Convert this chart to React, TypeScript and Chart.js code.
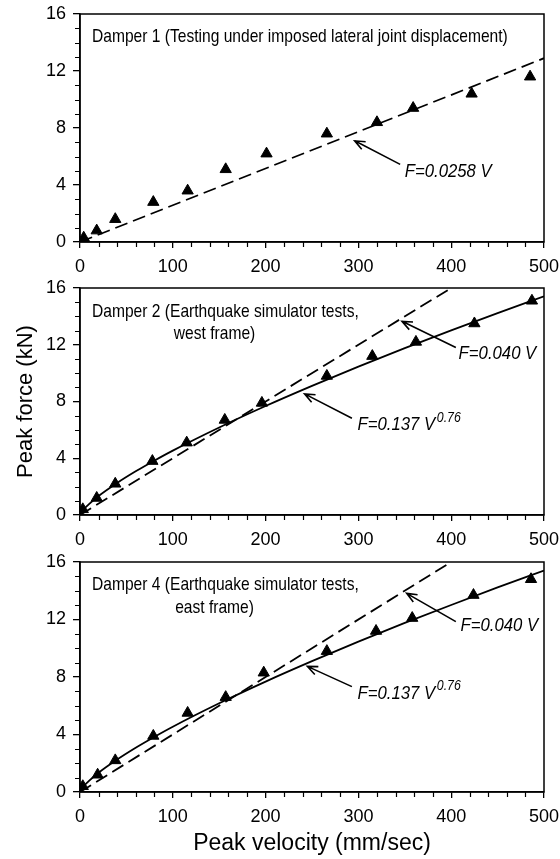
import React, { useEffect, useRef } from 'react';
import { Chart, registerables } from 'chart.js';
Chart.register(...registerables);

// ---------- data ----------
const VELOCITY_TICKS = [0, 100, 200, 300, 400, 500];
const FORCE_TICKS = [0, 4, 8, 12, 16];
const VELOCITY_MINOR = [20, 40, 60, 80, 120, 140, 160, 180, 220, 240, 260, 280, 320, 340, 360, 380, 420, 440, 460, 480];
const FORCE_MINOR = [1, 2, 3, 5, 6, 7, 9, 10, 11, 13, 14, 15];

// measured peak velocity (mm/sec) and peak force (kN)
const D1_V = [4, 18, 38, 79, 116, 157, 201, 266, 320, 359, 422, 485];
const D1_F = [0.3, 0.8, 1.6, 2.8, 3.6, 5.1, 6.2, 7.6, 8.4, 9.4, 10.4, 11.6];
const D2_V = [3, 18, 38, 78, 115, 156, 196, 266, 315, 362, 425, 487];
const D2_F = [0.4, 1.2, 2.2, 3.8, 5.1, 6.7, 7.9, 9.8, 11.2, 12.2, 13.5, 15.1];
const D4_V = [3, 19, 38, 79, 116, 157, 198, 266, 319, 358, 424, 486];
const D4_F = [0.4, 1.2, 2.2, 3.9, 5.5, 6.6, 8.3, 9.8, 11.2, 12.1, 13.7, 14.8];

// fitted lines
const LIN1_V = [0, 500];
const LIN1_F = [0, 12.9];
const LIN2_V = [0, 400];
const LIN2_F = [0, 16];
const POW_V = [0, 2, 5, 10, 20, 40, 60, 80, 100, 150, 200, 250, 300, 350, 400, 450, 500];
const POW_F = [0, 0.23, 0.47, 0.79, 1.34, 2.26, 3.08, 3.83, 4.54, 6.17, 7.68, 9.1, 10.46, 11.76, 13.01, 14.23, 15.41];

// annotations
const P1_TEXTS = [
  { text: 'Damper 1 (Testing under imposed lateral joint displacement)', v: 13, f: 14.4, align: 'left', italic: false },
  { text: 'F=0.0258 V', v: 350, f: 4.9, align: 'left', italic: true },
];
const P1_ARROWS = [{ v0: 345, f0: 5.45, v1: 296, f1: 7.1 }];

const P2_TEXTS = [
  { text: 'Damper 2 (Earthquake simulator tests,', v: 13, f: 14.3, align: 'left', italic: false },
  { text: 'west frame)', v: 145, f: 12.8, align: 'center', italic: false },
  { text: 'F=0.040 V', v: 408, f: 11.4, align: 'left', italic: true },
  { text: 'F=0.137 V', sup: '0.76', v: 299, f: 6.35, align: 'left', italic: true },
];
const P2_ARROWS = [
  { v0: 405, f0: 11.8, v1: 347, f1: 13.65 },
  { v0: 293, f0: 6.82, v1: 242, f1: 8.54 },
];

const P4_TEXTS = [
  { text: 'Damper 4 (Earthquake simulator tests,', v: 13, f: 14.4, align: 'left', italic: false },
  { text: 'east frame)', v: 145, f: 12.8, align: 'center', italic: false },
  { text: 'F=0.040 V', v: 410, f: 11.55, align: 'left', italic: true },
  { text: 'F=0.137 V', sup: '0.76', v: 299, f: 6.86, align: 'left', italic: true },
];
const P4_ARROWS = [
  { v0: 405, f0: 11.85, v1: 352, f1: 13.82 },
  { v0: 293, f0: 7.33, v1: 245, f1: 8.74 },
];

const SANS = '"Liberation Sans", Arial, sans-serif';

const zip = (vs: number[], fs: number[]) => vs.map((v, i) => ({ x: v, y: fs[i] }));

const decor = {
  id: 'decor',
  afterDraw(chart: any, _args: any, opts: any) {
    const { ctx, chartArea: a, scales } = chart;
    const x = scales.x, y = scales.y;
    ctx.save();
    ctx.strokeStyle = '#000';
    ctx.lineWidth = 1.5;
    ctx.strokeRect(a.left, a.top, a.right - a.left, a.bottom - a.top);
    ctx.lineWidth = 1.2;
    ctx.beginPath();
    FORCE_MINOR.forEach((f) => {
      const py = Math.round(y.getPixelForValue(f)) + 0.5;
      ctx.moveTo(a.left - 5, py);
      ctx.lineTo(a.left, py);
    });
    VELOCITY_MINOR.forEach((v) => {
      const px = Math.round(x.getPixelForValue(v)) + 0.5;
      ctx.moveTo(px, a.bottom);
      ctx.lineTo(px, a.bottom + 5);
    });
    ctx.stroke();

    ctx.fillStyle = '#000';
    ctx.textBaseline = 'middle';
    (opts.texts || []).forEach((t: any) => {
      const px = x.getPixelForValue(t.v);
      const py = y.getPixelForValue(t.f);
      ctx.save();
      ctx.translate(px, py);
      ctx.scale(t.italic ? 0.88 : 0.82, 1);
      ctx.font = t.italic ? `italic 19px ${SANS}` : `19px ${SANS}`;
      ctx.textAlign = t.align;
      ctx.fillText(t.text, 0, 0);
      if (t.sup) {
        const w = ctx.measureText(t.text).width;
        ctx.font = `italic 14px ${SANS}`;
        ctx.textAlign = 'left';
        ctx.fillText(t.sup, w + 2, -7);
      }
      ctx.restore();
    });
    ctx.lineWidth = 1.6;
    (opts.arrows || []).forEach((ar: any) => {
      const x0 = x.getPixelForValue(ar.v0), y0 = y.getPixelForValue(ar.f0);
      const x1 = x.getPixelForValue(ar.v1), y1 = y.getPixelForValue(ar.f1);
      const ang = Math.atan2(y0 - y1, x0 - x1);
      const L = 11, da = 0.4;
      ctx.beginPath();
      ctx.moveTo(x0, y0);
      ctx.lineTo(x1, y1);
      ctx.moveTo(x1 + L * Math.cos(ang + da), y1 + L * Math.sin(ang + da));
      ctx.lineTo(x1, y1);
      ctx.lineTo(x1 + L * Math.cos(ang - da), y1 + L * Math.sin(ang - da));
      ctx.stroke();
    });
    ctx.restore();
  },
};

type PanelCfg = {
  top: number;
  xHeight: number;
  pts: { x: number; y: number }[];
  lin: { x: number; y: number }[];
  pow?: { x: number; y: number }[];
  texts: any[];
  arrows: any[];
  yTitle?: boolean;
  xTitle?: boolean;
};

function Panel({ cfg }: { cfg: PanelCfg }) {
  const ref = useRef<HTMLCanvasElement>(null);
  useEffect(() => {
    const datasets: any[] = [
      {
        data: cfg.pts,
        showLine: false,
        pointStyle: 'triangle',
        pointRadius: 6.5,
        backgroundColor: '#000',
        borderColor: '#000',
        borderWidth: 1,
      },
      {
        data: cfg.lin,
        showLine: true,
        pointRadius: 0,
        borderColor: '#000',
        borderWidth: 1.8,
        borderDash: [13, 6],
        fill: false,
      },
    ];
    if (cfg.pow) {
      datasets.push({
        data: cfg.pow,
        showLine: true,
        pointRadius: 0,
        borderColor: '#000',
        borderWidth: 1.8,
        cubicInterpolationMode: 'monotone',
        fill: false,
      });
    }
    const chart = new Chart(ref.current!, {
      type: 'scatter',
      data: { datasets },
      options: {
        animation: false,
        responsive: false,
        devicePixelRatio: 1,
        layout: { padding: { left: 0, right: 16, top: cfg.top, bottom: 0 } },
        plugins: {
          legend: { display: false },
          tooltip: { enabled: false },
          decor: { texts: cfg.texts, arrows: cfg.arrows },
        } as any,
        scales: {
          x: {
            type: 'linear',
            min: 0,
            max: 500,
            afterBuildTicks: (s: any) => {
              s.ticks = VELOCITY_TICKS.map((v) => ({ value: v }));
            },
            afterFit: (s: any) => {
              s.height = cfg.xHeight;
              s.paddingLeft = 0;
              s.paddingRight = 0;
            },
            grid: { drawOnChartArea: false, drawTicks: true, tickLength: 6, color: '#000', lineWidth: 1.3 },
            border: { display: true, color: '#000', width: 1.5 },
            ticks: { color: '#000', font: { family: SANS, size: 18 }, padding: 8, maxRotation: 0, autoSkip: false },
            title: {
              display: !!cfg.xTitle,
              text: 'Peak velocity (mm/sec)',
              color: '#000',
              font: { family: SANS, size: 23 },
              padding: { top: 0, bottom: 2 },
            },
          },
          y: {
            type: 'linear',
            min: 0,
            max: 16,
            afterBuildTicks: (s: any) => {
              s.ticks = FORCE_TICKS.map((v) => ({ value: v }));
            },
            afterFit: (s: any) => {
              s.width = 80;
              s.paddingTop = 0;
              s.paddingBottom = 0;
            },
            grid: { drawOnChartArea: false, drawTicks: true, tickLength: 7, color: '#000', lineWidth: 1.3 },
            border: { display: true, color: '#000', width: 1.5 },
            ticks: { color: '#000', font: { family: SANS, size: 18 }, padding: 7 },
            title: {
              display: !!cfg.yTitle,
              text: 'Peak force (kN)',
              color: '#000',
              font: { family: SANS, size: 22 },
              padding: { top: 13, bottom: 0 },
            },
          },
        },
      },
      plugins: [decor],
    });
    return () => chart.destroy();
  }, []);
  return (
    <canvas
      ref={ref}
      width={560}
      height={859}
      style={{ position: 'absolute', left: 0, top: 0, width: 560, height: 859 }}
    />
  );
}

const PANELS: PanelCfg[] = [
  { top: 14, xHeight: 859 - 242, pts: zip(D1_V, D1_F), lin: zip(LIN1_V, LIN1_F), texts: P1_TEXTS, arrows: P1_ARROWS },
  {
    top: 288, xHeight: 859 - 515, pts: zip(D2_V, D2_F), lin: zip(LIN2_V, LIN2_F), pow: zip(POW_V, POW_F),
    texts: P2_TEXTS, arrows: P2_ARROWS, yTitle: true,
  },
  {
    top: 562, xHeight: 859 - 792, pts: zip(D4_V, D4_F), lin: zip(LIN2_V, LIN2_F), pow: zip(POW_V, POW_F),
    texts: P4_TEXTS, arrows: P4_ARROWS, xTitle: true,
  },
];

export default function App() {
  return (
    <div style={{ position: 'absolute', left: 0, top: 0, width: 560, height: 859, background: '#fff' }}>
      {PANELS.map((p, i) => (
        <Panel key={i} cfg={p} />
      ))}
    </div>
  );
}
